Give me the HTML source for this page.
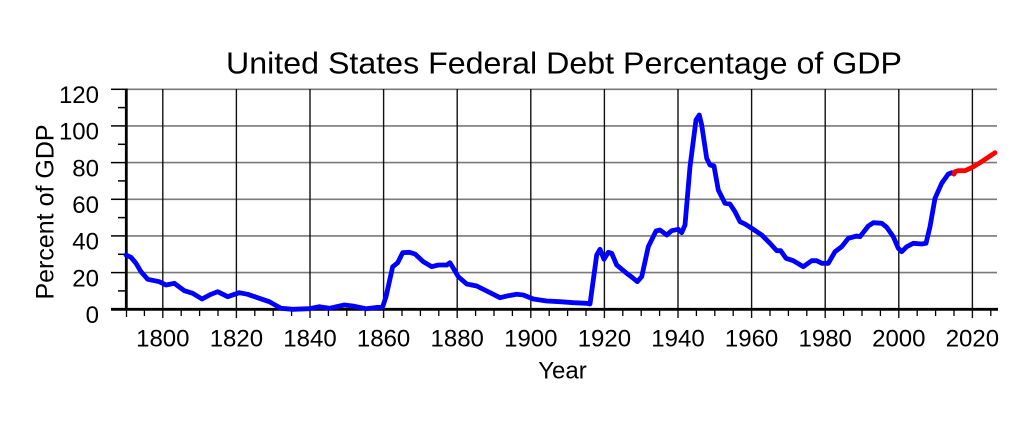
<!DOCTYPE html>
<html>
<head>
<meta charset="utf-8">
<style>
html,body{margin:0;padding:0;background:#fff;}
svg{display:block;}
text{font-family:"Liberation Sans",Arial,sans-serif;fill:#000;}
</style>
</head>
<body>
<svg width="1024" height="423" viewBox="0 0 1024 423" xmlns="http://www.w3.org/2000/svg">
<rect width="1024" height="423" fill="#fff"/>
<!-- title -->
<text x="564" y="73.5" font-size="30.5" text-anchor="middle" textLength="676" lengthAdjust="spacingAndGlyphs">United States Federal Debt Percentage of GDP</text>

<!-- horizontal grid -->
<g stroke="#7a7a7a" stroke-width="1.6">
<line x1="126" y1="89.3" x2="997" y2="89.3"/>
<line x1="126" y1="125.9" x2="997" y2="125.9"/>
<line x1="126" y1="162.6" x2="997" y2="162.6"/>
<line x1="126" y1="199.3" x2="997" y2="199.3"/>
<line x1="126" y1="235.9" x2="997" y2="235.9"/>
<line x1="126" y1="272.6" x2="997" y2="272.6"/>
</g>
<!-- vertical grid -->
<g stroke="#111" stroke-width="1.4">
<line x1="162.8" y1="89" x2="162.8" y2="318"/>
<line x1="236.4" y1="89" x2="236.4" y2="318"/>
<line x1="310" y1="89" x2="310" y2="318"/>
<line x1="383.6" y1="89" x2="383.6" y2="318"/>
<line x1="457.2" y1="89" x2="457.2" y2="318"/>
<line x1="530.8" y1="89" x2="530.8" y2="318"/>
<line x1="604.4" y1="89" x2="604.4" y2="318"/>
<line x1="678" y1="89" x2="678" y2="318"/>
<line x1="751.6" y1="89" x2="751.6" y2="318"/>
<line x1="825.2" y1="89" x2="825.2" y2="318"/>
<line x1="898.8" y1="89" x2="898.8" y2="318"/>
<line x1="972.4" y1="89" x2="972.4" y2="318"/>
</g>
<!-- minor x ticks -->
<g stroke="#000" stroke-width="1.3">
<line x1="126.5" y1="309" x2="126.5" y2="317"/>
<line x1="144.4" y1="309" x2="144.4" y2="316"/>
<line x1="181.2" y1="309" x2="181.2" y2="316"/>
<line x1="199.6" y1="309" x2="199.6" y2="316"/>
<line x1="218" y1="309" x2="218" y2="316"/>
<line x1="254.8" y1="309" x2="254.8" y2="316"/>
<line x1="273.2" y1="309" x2="273.2" y2="316"/>
<line x1="291.6" y1="309" x2="291.6" y2="316"/>
<line x1="328.4" y1="309" x2="328.4" y2="316"/>
<line x1="346.8" y1="309" x2="346.8" y2="316"/>
<line x1="365.2" y1="309" x2="365.2" y2="316"/>
<line x1="402" y1="309" x2="402" y2="316"/>
<line x1="420.4" y1="309" x2="420.4" y2="316"/>
<line x1="438.8" y1="309" x2="438.8" y2="316"/>
<line x1="475.6" y1="309" x2="475.6" y2="316"/>
<line x1="494" y1="309" x2="494" y2="316"/>
<line x1="512.4" y1="309" x2="512.4" y2="316"/>
<line x1="549.2" y1="309" x2="549.2" y2="316"/>
<line x1="567.6" y1="309" x2="567.6" y2="316"/>
<line x1="586" y1="309" x2="586" y2="316"/>
<line x1="622.8" y1="309" x2="622.8" y2="316"/>
<line x1="641.2" y1="309" x2="641.2" y2="316"/>
<line x1="659.6" y1="309" x2="659.6" y2="316"/>
<line x1="696.4" y1="309" x2="696.4" y2="316"/>
<line x1="714.8" y1="309" x2="714.8" y2="316"/>
<line x1="733.2" y1="309" x2="733.2" y2="316"/>
<line x1="770" y1="309" x2="770" y2="316"/>
<line x1="788.4" y1="309" x2="788.4" y2="316"/>
<line x1="806.8" y1="309" x2="806.8" y2="316"/>
<line x1="843.6" y1="309" x2="843.6" y2="316"/>
<line x1="862" y1="309" x2="862" y2="316"/>
<line x1="880.4" y1="309" x2="880.4" y2="316"/>
<line x1="917.2" y1="309" x2="917.2" y2="316"/>
<line x1="935.6" y1="309" x2="935.6" y2="316"/>
<line x1="954" y1="309" x2="954" y2="316"/>
<line x1="990.8" y1="309" x2="990.8" y2="316"/>
</g>
<!-- y ticks -->
<g stroke="#000" stroke-width="1.5">
<line x1="111" y1="89.3" x2="126" y2="89.3"/>
<line x1="118" y1="107.6" x2="126" y2="107.6"/>
<line x1="111" y1="125.9" x2="126" y2="125.9"/>
<line x1="118" y1="144.3" x2="126" y2="144.3"/>
<line x1="111" y1="162.6" x2="126" y2="162.6"/>
<line x1="118" y1="180.9" x2="126" y2="180.9"/>
<line x1="111" y1="199.3" x2="126" y2="199.3"/>
<line x1="118" y1="217.6" x2="126" y2="217.6"/>
<line x1="111" y1="235.9" x2="126" y2="235.9"/>
<line x1="118" y1="254.3" x2="126" y2="254.3"/>
<line x1="111" y1="272.6" x2="126" y2="272.6"/>
<line x1="118" y1="290.9" x2="126" y2="290.9"/>
</g>
<!-- axes -->
<line x1="126.3" y1="88.5" x2="126.3" y2="310.5" stroke="#000" stroke-width="2.8"/>
<line x1="111" y1="309.3" x2="998" y2="309.3" stroke="#000" stroke-width="2.8"/>

<!-- data -->
<polyline fill="none" stroke="#0000ff" stroke-width="4.8" stroke-linejoin="round" stroke-linecap="round" points="126,255 131,257.3 136,263.3 141,271.7 147.7,279.3 159.3,281.7 166,285 174.3,283.3 184.3,290.7 192.7,293.3 202,299 211,294.3 217.7,291.7 227.7,296.7 239.3,292.7 247.7,294.3 259.3,298.3 269.3,301.7 281,308.3 292.7,309.3 309.3,308.7 319.3,306.7 329.3,308.3 344.3,305 352.7,306 366,308.7 382.7,306.7 386,296.7 392.7,266.7 397.7,262.7 402.7,252.7 409.3,252.3 415,254 423.3,261.7 431.7,266.7 438.3,265 446.7,265 450,262.7 458.3,276.7 466.7,284 476.7,286 486.7,291 500,297.7 508.3,295.7 516.7,294.3 523.3,295 533.3,299 546.7,301 560,301.7 573.3,302.7 586.7,303.3 590,304 596.7,255 600,249.3 604,259.3 608.3,252.3 611.7,253.3 616.7,265 626.7,273.3 633.3,278.3 637.3,281.7 641.7,276.7 648.3,246.7 656,231 660,230 666.7,235 671.7,230.7 678.3,229.3 681.7,232.7 685,225 690,166.7 696,120 699.3,115 701.7,125 706.7,158.3 710,165 714,166 718.3,190 725,203.3 730,204 735,211.7 740,221.7 745,224 751.7,228.3 761.7,235 770,243.3 776.7,250.7 780.7,250.7 786,258.3 793.3,260.7 803.3,266.7 811.7,260.7 816.7,260.7 821.7,263.3 828.3,263.3 835,251.7 841.7,246.7 848.3,238.3 856.7,236 860,236.7 868.3,226 873.3,222.7 881.7,223.3 886.7,227.3 893.3,236.7 898.3,248.3 901.7,251.7 906.7,246.7 913.3,243.3 921.7,244 926,243.3 930,226.7 935,198.3 941.7,183.3 948.3,174 951.7,172.7 954,174"/>
<polyline fill="none" stroke="#ff0000" stroke-width="4.8" stroke-linejoin="round" stroke-linecap="round" points="954,174 955,171.7 958.3,170.7 965,170.7 972.3,167.3 980,162.7 986.7,158.3 995,152.7"/>

<!-- y tick labels -->
<g font-size="24" text-anchor="end">
<text x="99" y="103">120</text>
<text x="99" y="139.6">100</text>
<text x="99" y="176.3">80</text>
<text x="99" y="213">60</text>
<text x="99" y="249.6">40</text>
<text x="99" y="286.3">20</text>
<text x="99" y="323">0</text>
</g>
<!-- x tick labels -->
<g font-size="24" text-anchor="middle">
<text x="162.8" y="346.7">1800</text>
<text x="236.4" y="346.7">1820</text>
<text x="310" y="346.7">1840</text>
<text x="383.6" y="346.7">1860</text>
<text x="457.2" y="346.7">1880</text>
<text x="530.8" y="346.7">1900</text>
<text x="604.4" y="346.7">1920</text>
<text x="678" y="346.7">1940</text>
<text x="751.6" y="346.7">1960</text>
<text x="825.2" y="346.7">1980</text>
<text x="898.8" y="346.7">2000</text>
<text x="972.4" y="346.7">2020</text>
</g>
<!-- axis titles -->
<text x="562.5" y="378.5" font-size="24" text-anchor="middle">Year</text>
<text transform="translate(53.5,212) rotate(-90)" font-size="25" text-anchor="middle">Percent of GDP</text>
</svg>
</body>
</html>
